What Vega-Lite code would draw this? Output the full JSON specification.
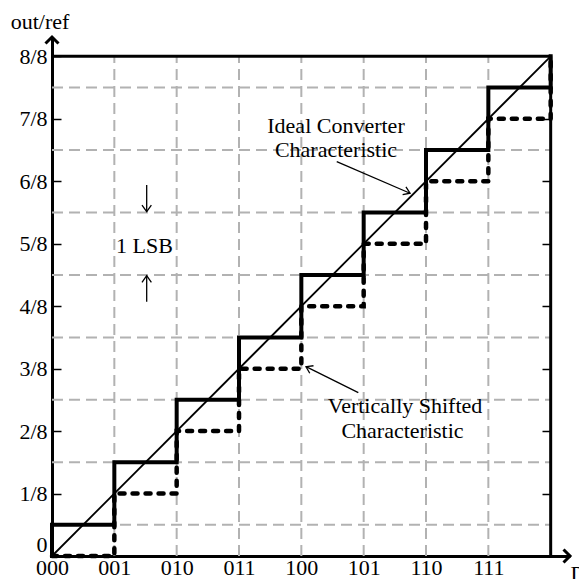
{
  "$schema": "https://vega.github.io/schema/vega-lite/v6.json",
  "width": 518,
  "height": 519,
  "autosize": "none",
  "padding": {"left": 52, "top": 37, "right": 9, "bottom": 23},
  "background": "white",
  "config": {"view": {"stroke": null}, "font": "Liberation Serif"},
  "datasets": {
    "vgrid": [{"x": 1}, {"x": 2}, {"x": 3}, {"x": 4}, {"x": 5}, {"x": 6}, {"x": 7}],
    "hgrid": [{"y": 0.5}, {"y": 1.5}, {"y": 2.5}, {"y": 3.5}, {"y": 4.5}, {"y": 5.5}, {"y": 6.5}, {"y": 7.5}],
    "diag": [{"x": 0, "y": 0}, {"x": 8, "y": 8}],
    "ideal": [
      {"i": 0, "x": 0, "y": 0}, {"i": 1, "x": 0, "y": 0.5}, {"i": 2, "x": 1, "y": 0.5}, {"i": 3, "x": 1, "y": 1.5},
      {"i": 4, "x": 2, "y": 1.5}, {"i": 5, "x": 2, "y": 2.5}, {"i": 6, "x": 3, "y": 2.5}, {"i": 7, "x": 3, "y": 3.5},
      {"i": 8, "x": 4, "y": 3.5}, {"i": 9, "x": 4, "y": 4.5}, {"i": 10, "x": 5, "y": 4.5}, {"i": 11, "x": 5, "y": 5.5},
      {"i": 12, "x": 6, "y": 5.5}, {"i": 13, "x": 6, "y": 6.5}, {"i": 14, "x": 7, "y": 6.5}, {"i": 15, "x": 7, "y": 7.5},
      {"i": 16, "x": 8, "y": 7.5}, {"i": 17, "x": 8, "y": 8}
    ],
    "shifted": [
      {"i": 0, "x": 0, "y": 0}, {"i": 1, "x": 1, "y": 0}, {"i": 2, "x": 1, "y": 1}, {"i": 3, "x": 2, "y": 1},
      {"i": 4, "x": 2, "y": 2}, {"i": 5, "x": 3, "y": 2}, {"i": 6, "x": 3, "y": 3}, {"i": 7, "x": 4, "y": 3},
      {"i": 8, "x": 4, "y": 4}, {"i": 9, "x": 5, "y": 4}, {"i": 10, "x": 5, "y": 5}, {"i": 11, "x": 6, "y": 5},
      {"i": 12, "x": 6, "y": 6}, {"i": 13, "x": 7, "y": 6}, {"i": 14, "x": 7, "y": 7}, {"i": 15, "x": 8, "y": 7},
      {"i": 16, "x": 8, "y": 8}
    ],
    "labels": [
      {"x": 4.556, "y": 6.778, "text": "Ideal Converter"},
      {"x": 4.556, "y": 6.394, "text": "Characteristic"},
      {"x": 5.663, "y": 2.29, "text": "Vertically Shifted"},
      {"x": 5.623, "y": 1.885, "text": "Characteristic"},
      {"x": 1.484, "y": 4.847, "text": "1 LSB"}
    ],
    "arrows": [
      {"x": 4.568, "y": 6.314, "x2": 5.744, "y2": 5.808},
      {"x": 4.914, "y": 2.615, "x2": 4.075, "y2": 3.031},
      {"x": 1.519, "y": 5.941, "x2": 1.519, "y2": 5.513},
      {"x": 1.519, "y": 4.072, "x2": 1.519, "y2": 4.488}
    ],
    "heads": [
      {"name": "ideal", "x": 5.744, "y": 5.808},
      {"name": "shifted", "x": 4.075, "y": 3.031},
      {"name": "down", "x": 1.519, "y": 5.513},
      {"name": "up", "x": 1.519, "y": 4.488},
      {"name": "yaxis", "x": 0, "y": 8.31},
      {"name": "xaxis", "x": 8.31, "y": 0}
    ],
    "one": [{}]
  },
  "resolve": {"axis": {"y": "independent"}},
  "layer": [
    {
      "data": {"name": "vgrid"},
      "mark": {"type": "rule", "color": "#b2b2b2", "strokeWidth": 2, "strokeDash": [11, 6]},
      "encoding": {
        "x": {
          "field": "x", "type": "quantitative",
          "scale": {"domain": [0, 8.31], "nice": false, "zero": false},
          "axis": {
            "orient": "bottom",
            "values": [0, 1, 2, 3, 4, 5, 6, 7],
            "labelExpr": "datum.value == 0 ? '000' : datum.value == 1 ? '001' : datum.value == 2 ? '010' : datum.value == 3 ? '011' : datum.value == 4 ? '100' : datum.value == 5 ? '101' : datum.value == 6 ? '110' : '111'",
            "ticks": false, "grid": false,
            "domain": true, "domainColor": "black", "domainWidth": 3,
            "labelFont": "Liberation Serif", "labelFontSize": 22, "labelColor": "black",
            "labelPadding": 1, "labelFlush": false, "labelOverlap": false,
            "title": "D", "titleFont": "Liberation Serif", "titleFontSize": 22, "titleFontWeight": "normal",
            "titleColor": "black", "titleX": 518, "titleY": 24, "titleAlign": "left", "titleBaseline": "alphabetic"
          }
        },
        "y": {
          "datum": 0, "type": "quantitative",
          "scale": {"domain": [0, 8.31], "nice": false, "zero": false},
          "axis": {
            "orient": "left",
            "values": [0, 1, 2, 3, 4, 5, 6, 7, 8],
            "labelExpr": "datum.value == 0 ? '0' : datum.value + '/8'",
            "ticks": true, "tickSize": -9, "tickWidth": 1.5, "tickColor": "black", "grid": false,
            "domain": true, "domainColor": "black", "domainWidth": 3,
            "labelFont": "Liberation Serif", "labelFontSize": 22, "labelColor": "black",
            "labelPadding": 14, "labelFlush": true, "labelOverlap": false,
            "title": "out/ref", "titleFont": "Liberation Serif", "titleFontSize": 22, "titleFontWeight": "normal",
            "titleColor": "black", "titleAngle": 0, "titleX": -12.5, "titleY": -9, "titleAlign": "center", "titleBaseline": "alphabetic"
          }
        },
        "y2": {"datum": 8}
      }
    },
    {
      "data": {"name": "hgrid"},
      "mark": {"type": "rule", "color": "#b2b2b2", "strokeWidth": 2, "strokeDash": [11, 6]},
      "encoding": {
        "y": {"field": "y", "type": "quantitative", "axis": null},
        "x": {"datum": 0, "type": "quantitative"},
        "x2": {"datum": 8}
      }
    },
    {
      "data": {"name": "diag"},
      "mark": {"type": "line", "color": "black", "strokeWidth": 1.8},
      "encoding": {
        "x": {"field": "x", "type": "quantitative"},
        "y": {"field": "y", "type": "quantitative", "axis": null}
      }
    },
    {
      "data": {"name": "shifted"},
      "mark": {"type": "line", "color": "black", "strokeWidth": 4.5, "strokeDash": [5, 8], "strokeCap": "round"},
      "encoding": {
        "x": {"field": "x", "type": "quantitative"},
        "y": {"field": "y", "type": "quantitative", "axis": null},
        "order": {"field": "i", "type": "quantitative"}
      }
    },
    {
      "data": {"name": "ideal"},
      "mark": {"type": "line", "color": "black", "strokeWidth": 4, "strokeJoin": "miter", "strokeCap": "square"},
      "encoding": {
        "x": {"field": "x", "type": "quantitative"},
        "y": {"field": "y", "type": "quantitative", "axis": null},
        "order": {"field": "i", "type": "quantitative"}
      }
    },
    {
      "data": {"name": "one"},
      "mark": {"type": "rule", "color": "black", "strokeWidth": 3},
      "encoding": {
        "x": {"datum": 0, "type": "quantitative"},
        "x2": {"datum": 8},
        "y": {"datum": 8, "type": "quantitative", "axis": null}
      }
    },
    {
      "data": {"name": "one"},
      "mark": {"type": "rule", "color": "black", "strokeWidth": 3},
      "encoding": {
        "x": {"datum": 8, "type": "quantitative"},
        "y": {
          "datum": 0, "type": "quantitative",
          "axis": {
            "orient": "right", "offset": -28,
            "values": [1, 2, 3, 4, 5, 6, 7],
            "domain": false, "labels": false, "grid": false,
            "ticks": true, "tickSize": 9, "tickWidth": 1.5, "tickColor": "black",
            "title": null
          }
        },
        "y2": {"datum": 8}
      }
    },
    {
      "data": {"name": "arrows"},
      "mark": {"type": "rule", "color": "black", "strokeWidth": 1.3},
      "encoding": {
        "x": {"field": "x", "type": "quantitative"},
        "y": {"field": "y", "type": "quantitative", "axis": null},
        "x2": {"field": "x2"},
        "y2": {"field": "y2"}
      }
    },
    {
      "data": {"name": "labels"},
      "mark": {"type": "text", "font": "Liberation Serif", "fontSize": 22, "align": "center", "baseline": "alphabetic", "color": "black"},
      "encoding": {
        "x": {"field": "x", "type": "quantitative"},
        "y": {"field": "y", "type": "quantitative", "axis": null},
        "text": {"field": "text"}
      }
    },
    {
      "data": {"name": "heads"},
      "transform": [{"filter": "datum.name == 'ideal'"}],
      "mark": {"type": "point", "shape": "M-1.5,-1L0,0L-1.5,1", "size": 70, "angle": 23.3, "filled": false, "stroke": "black", "strokeWidth": 1.3, "opacity": 1},
      "encoding": {
        "x": {"field": "x", "type": "quantitative"},
        "y": {"field": "y", "type": "quantitative", "axis": null}
      }
    },
    {
      "data": {"name": "heads"},
      "transform": [{"filter": "datum.name == 'shifted'"}],
      "mark": {"type": "point", "shape": "M-1.5,-1L0,0L-1.5,1", "size": 70, "angle": 206.4, "filled": false, "stroke": "black", "strokeWidth": 1.3, "opacity": 1},
      "encoding": {
        "x": {"field": "x", "type": "quantitative"},
        "y": {"field": "y", "type": "quantitative", "axis": null}
      }
    },
    {
      "data": {"name": "heads"},
      "transform": [{"filter": "datum.name == 'down'"}],
      "mark": {"type": "point", "shape": "M-1.4,-1L0,0L-1.4,1", "size": 88, "angle": 90, "filled": false, "stroke": "black", "strokeWidth": 1.3, "opacity": 1},
      "encoding": {
        "x": {"field": "x", "type": "quantitative"},
        "y": {"field": "y", "type": "quantitative", "axis": null}
      }
    },
    {
      "data": {"name": "heads"},
      "transform": [{"filter": "datum.name == 'up'"}],
      "mark": {"type": "point", "shape": "M-1.4,-1L0,0L-1.4,1", "size": 88, "angle": 270, "filled": false, "stroke": "black", "strokeWidth": 1.3, "opacity": 1},
      "encoding": {
        "x": {"field": "x", "type": "quantitative"},
        "y": {"field": "y", "type": "quantitative", "axis": null}
      }
    },
    {
      "data": {"name": "heads"},
      "transform": [{"filter": "datum.name == 'yaxis'"}],
      "mark": {"type": "point", "shape": "M-1,-1L0,0L-1,1", "size": 169, "angle": 270, "filled": false, "stroke": "black", "strokeWidth": 3, "opacity": 1},
      "encoding": {
        "x": {"field": "x", "type": "quantitative"},
        "y": {"field": "y", "type": "quantitative", "axis": null}
      }
    },
    {
      "data": {"name": "heads"},
      "transform": [{"filter": "datum.name == 'xaxis'"}],
      "mark": {"type": "point", "shape": "M-1,-1L0,0L-1,1", "size": 169, "angle": 0, "filled": false, "stroke": "black", "strokeWidth": 3, "opacity": 1},
      "encoding": {
        "x": {"field": "x", "type": "quantitative"},
        "y": {"field": "y", "type": "quantitative", "axis": null}
      }
    }
  ]
}
